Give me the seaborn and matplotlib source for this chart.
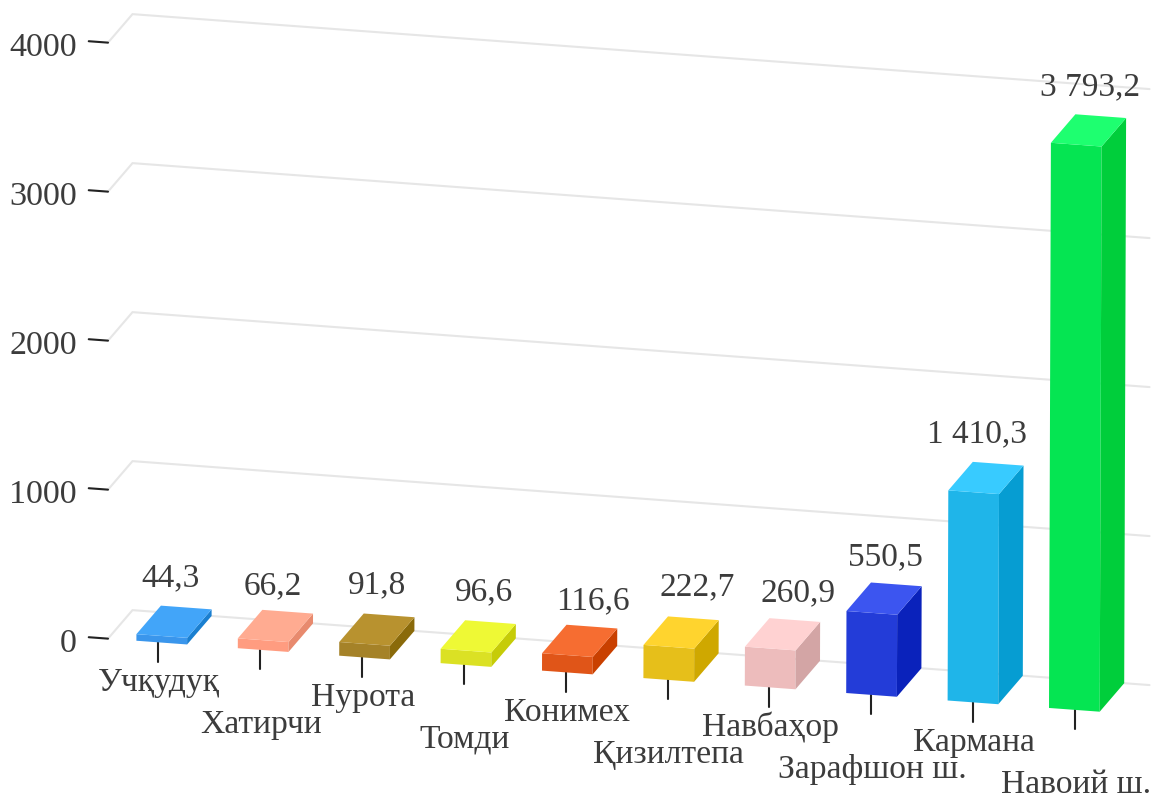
import matplotlib
matplotlib.use("Agg")
import matplotlib.pyplot as plt
from matplotlib.transforms import Affine2D
import numpy as np
import pandas as pd
import seaborn as sns

districts = ["Учқудуқ", "Хатирчи", "Нурота", "Томди", "Конимех",
             "Қизилтепа", "Навбаҳор", "Зарафшон ш.", "Кармана", "Навоий ш."]
values = [44.3, 66.2, 91.8, 96.6, 116.6, 222.7, 260.9, 550.5, 1410.3, 3793.2]
value_labels = ["44,3", "66,2", "91,8", "96,6", "116,6",
                "222,7", "260,9", "550,5", "1 410,3", "3 793,2"]
y_ticks = [0, 1000, 2000, 3000, 4000]

front_colors = ["#3a96ec", "#ff9c80", "#a58228", "#dbe124", "#e05518",
                "#e6bf1a", "#edbcbc", "#233cd8", "#1fb5e9", "#05e552"]
top_colors = ["#42a5f9", "#ffab91", "#b8922f", "#eef935", "#f66d31",
              "#ffd42e", "#ffd2d2", "#3c55f0", "#38cbff", "#1eff70"]
side_colors = ["#1a7fd0", "#e88a6e", "#8a6a0a", "#c6cc08", "#c94000",
               "#cfa800", "#d3a5a5", "#0a22bb", "#069dd2", "#00ce3b"]

# fake 3d: category/value plane to pixels, depth shifts everything back
px_per_cat, px_per_val, skew_x = 101.4, 0.149, 0.0005
drop_per_cat = 7.47
x0, y0 = 161.75, 642.6
depth_x, depth_y = 24.5, -28.5

# label nudges around the bar top, in pixels
val_dx = [-4, -3, 0, 6, 13, 16, 15, 1, -9, 2]
val_dy = [-44, -40, -45, -44, -40, -45, -41, -42, -44, -43]


def project(x, v, z=0.0):
    return (x0 + px_per_cat * x + skew_x * v + depth_x * z,
            y0 + drop_per_cat * x - px_per_val * v + depth_y * z)


sns.set_theme(style="white")
plt.rcParams["font.family"] = ["Liberation Serif", "DejaVu Serif"]
text_color = "#3c3c3c"

df = pd.DataFrame({"district": districts, "value": values})

fig = plt.figure(figsize=(11.54, 7.98), dpi=100)
ax = fig.add_axes([0, 0, 1, 1])
sns.barplot(data=df, x="district", y="value", hue="district", palette=front_colors,
            width=0.5, saturation=1, legend=False, ax=ax, zorder=3)

# axes now just hold pixels, the bars go through the skew
ax.set_xlim(0, 1154)
ax.set_ylim(798, 0)
ax.axis("off")
skew = Affine2D.from_values(px_per_cat, drop_per_cat, skew_x, -px_per_val, x0, y0)
bars = list(ax.patches)

axis_x = -0.53
grid_end = 9.5
for t in y_ticks:
    # the axis stays upright, so no value skew on these
    lean = skew_x * t
    gx0, gy0 = project(axis_x, t)
    gx1, gy1 = project(axis_x, t, 1)
    gx2, gy2 = project(grid_end, t, 1)
    ax.plot([gx0 - lean, gx1 - lean, gx2 - lean], [gy0, gy1, gy2], color="#e6e6e6", lw=1.5,
            zorder=1, solid_joinstyle="miter")
    tx, ty = project(axis_x - 0.19, t)
    ax.plot([tx - lean, gx0 - lean], [ty, gy0], color="#222222", lw=1.5, zorder=2)
    ax.text(tx - lean - 12, ty + 7, str(t), ha="right", va="center", fontsize=24.6,
            color=text_color)

for i, bar in enumerate(bars):
    bar.set_transform(skew + ax.transData)
    bar.set_linewidth(0)
    left = bar.get_x()
    right = left + bar.get_width()
    v = bar.get_height()

    top = [project(left, v), project(right, v), project(right, v, 1), project(left, v, 1)]
    side = [project(right, 0), project(right, v), project(right, v, 1), project(right, 0, 1)]
    ax.fill(*zip(*side), color=side_colors[i], lw=0, zorder=3)
    ax.fill(*zip(*top), color=top_colors[i], lw=0, zorder=3)

    # category ticks run on a slightly wider pitch than the bars
    tick_cat = i * 1.0044 - 0.034
    tx, ty = project(tick_cat, 0)
    ax.plot([tx, tx], [ty, ty + 19.5], color="#222222", lw=1.5, zorder=2)

    ax.text(tx + 1, ty + (40 if i % 2 == 0 else 74.5), districts[i], ha="center", va="center",
            fontsize=24.2, color=text_color)

    lx, ly = project(i, v, 0.5)
    ax.text(lx + val_dx[i], ly + val_dy[i], value_labels[i], ha="center", va="center",
            fontsize=24, color=text_color, zorder=4)

fig.savefig("out.png", dpi=100)
